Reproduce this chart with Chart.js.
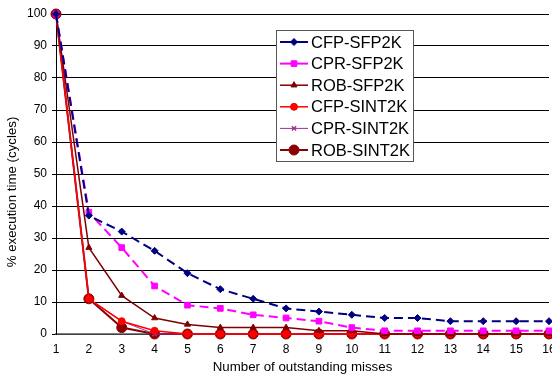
<!DOCTYPE html>
<html>
<head>
<meta charset="utf-8">
<script src="https://cdn.jsdelivr.net/npm/chart.js@4.4.1/dist/chart.umd.min.js"></script>
<style>
  html, body { margin: 0; padding: 0; background: #fff; overflow: hidden; }
  #wrap { position: relative; width: 555px; height: 375px; }
</style>
</head>
<body>
<div id="wrap"><canvas id="mycanvas"></canvas></div>
<script>
const misses = [1, 2, 3, 4, 5, 6, 7, 8, 9, 10, 11, 12, 13, 14, 15, 16];
const cfpSfp = [100, 37, 32, 26, 19, 14, 11, 8, 7, 6, 5, 5, 4, 4, 4, 4];
const cprSfp = [100, 38, 27, 15, 9, 8, 6, 5, 4, 2, 1, 1, 1, 1, 1, 1];
const robSfp = [100, 27, 12, 5, 3, 2, 2, 2, 1, 1, 0, 0, 0, 0, 0, 0];
const cfpSint = [100, 11, 4, 1, 0, 0, 0, 0, 0, 0, 0, 0, 0, 0, 0, 0];
const cprSint = [100, 11, 4, 0, 0, 0, 0, 0, 0, 0, 0, 0, 0, 0, 0, 0];
const robSint = [100, 11, 2, 0, 0, 0, 0, 0, 0, 0, 0, 0, 0, 0, 0, 0];
const yTicks = [0, 10, 20, 30, 40, 50, 60, 70, 80, 90, 100];
const yTitle = '% execution time (cycles)';

const pts = arr => arr.map((v, i) => ({x: misses[i], y: v}));
const FONT = '"Liberation Sans", Arial, sans-serif';

// legend box inside the plot + y title (sits a bit low in the original)
const boxLegend = {
    id: 'boxLegend',
    afterDraw(chart) {
        const ctx = chart.ctx;
        const x0 = 276, y0 = 30, w = 137, h = 131;
        ctx.save();
        ctx.fillStyle = '#fff';
        ctx.fillRect(x0, y0, w, h);
        ctx.strokeStyle = '#555';
        ctx.lineWidth = 1;
        ctx.strokeRect(x0 + 0.5, y0 + 0.5, w, h);
        chart.data.datasets.forEach((ds, i) => {
            const y = 42 + i * 21.6;
            ctx.strokeStyle = ds.borderColor;
            ctx.lineWidth = ds.borderWidth;
            ctx.setLineDash([]);
            ctx.beginPath();
            ctx.moveTo(280, y);
            ctx.lineTo(308, y);
            ctx.stroke();
            ctx.fillStyle = ds.backgroundColor;
            ctx.lineWidth = ds.pointBorderWidth;
            Chart.helpers.drawPoint(ctx, {
                pointStyle: ds.pointStyle,
                radius: ds.pointRadius,
                rotation: 0,
                borderWidth: ds.pointBorderWidth
            }, 294, y);
            ctx.fillStyle = '#000';
            ctx.font = '16.5px ' + FONT;
            ctx.textBaseline = 'middle';
            ctx.fillText(ds.label, 311, y + 1);
        });

        ctx.translate(12, 192);
        ctx.rotate(-Math.PI / 2);
        ctx.fillStyle = '#000';
        ctx.font = '13.3px ' + FONT;
        ctx.textAlign = 'center';
        ctx.textBaseline = 'middle';
        ctx.fillText(yTitle, 0, 0);
        ctx.restore();
    }
};

const chartDataSet = {
    type: 'line',
    data: {
        datasets: [{
            label: 'CFP-SFP2K',
            data: pts(cfpSfp),
            borderColor: '#000080',
            backgroundColor: '#000080',
            borderWidth: 2,
            borderDash: [9, 5],
            pointStyle: 'rectRot',
            pointRadius: 3.5,
            pointBorderWidth: 1,
            clip: false
        }, {
            label: 'CPR-SFP2K',
            data: pts(cprSfp),
            borderColor: '#ff00ff',
            backgroundColor: '#ff00ff',
            borderWidth: 2,
            borderDash: [9, 5],
            pointStyle: 'rect',
            pointRadius: 4,
            pointBorderWidth: 1,
            clip: false
        }, {
            label: 'ROB-SFP2K',
            data: pts(robSfp),
            borderColor: '#800000',
            backgroundColor: '#800000',
            borderWidth: 1.5,
            pointStyle: 'triangle',
            pointRadius: 3.5,
            pointBorderWidth: 1,
            clip: false
        }, {
            label: 'CFP-SINT2K',
            data: pts(cfpSint),
            borderColor: '#ff0000',
            backgroundColor: '#ff0000',
            borderWidth: 1.5,
            pointStyle: 'circle',
            pointRadius: 3.5,
            pointBorderWidth: 1,
            clip: false
        }, {
            label: 'CPR-SINT2K',
            data: pts(cprSint),
            borderColor: '#993399',
            backgroundColor: '#993399',
            borderWidth: 1,
            pointStyle: 'crossRot',
            pointRadius: 3,
            pointBorderWidth: 1.5,
            clip: false
        }, {
            label: 'ROB-SINT2K',
            data: pts(robSint),
            borderColor: '#8b0000',
            backgroundColor: '#8b0000',
            borderWidth: 2,
            pointStyle: 'circle',
            pointRadius: 5,
            pointBorderWidth: 1,
            clip: false
        }]
    },
    options: {
        responsive: true,
        maintainAspectRatio: false,
        animation: {duration: 0},
        layout: {padding: {top: 14, right: 1, left: 0, bottom: 0}},
        plugins: {
            legend: {display: false},
            tooltip: {enabled: false}
        },
        elements: {line: {tension: 0}},
        scales: {
            x: {
                type: 'linear',
                min: 1,
                max: 16,
                ticks: {stepSize: 1, color: '#000', font: {family: FONT, size: 12}, padding: 5, maxRotation: 0},
                grid: {display: false, drawOnChartArea: false, drawTicks: true, tickLength: 3, color: '#808080'},
                border: {display: true, color: '#808080', width: 1.5},
                title: {display: true, text: 'Number of outstanding misses', color: '#000',
                    font: {family: FONT, size: 13.3}, padding: {top: 0, bottom: 0}},
                afterFit(scale) {
                    scale.height = 41;
                    scale.paddingLeft = 0;
                    scale.paddingRight = 0;
                }
            },
            y: {
                min: 0,
                max: 100,
                afterBuildTicks(scale) {
                    scale.ticks = yTicks.map(v => ({value: v}));
                },
                ticks: {color: '#000', font: {family: FONT, size: 12}, padding: 5},
                grid: {color: '#000', lineWidth: 1, tickLength: 4},
                border: {display: true, color: '#000', width: 1},
                afterFit(scale) {
                    scale.width = 56;
                }
            }
        }
    },
    plugins: [boxLegend]
};

window.onload = function () {
    const ctx = document.getElementById('mycanvas').getContext('2d');
    new Chart(ctx, chartDataSet);
};
</script>
</body>
</html>
